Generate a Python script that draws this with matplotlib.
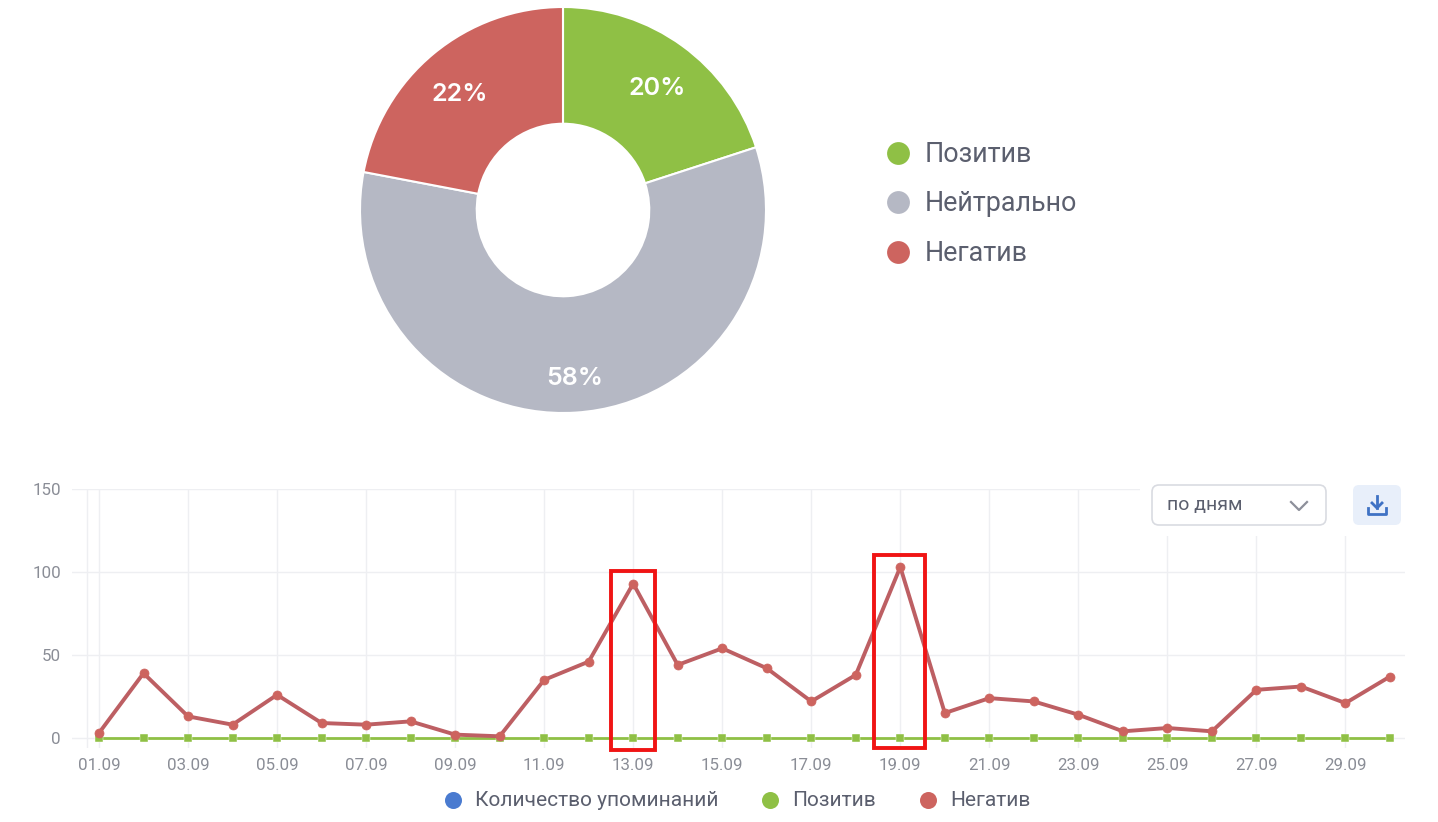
#!/usr/bin/env python3
import matplotlib
matplotlib.use("Agg")
import matplotlib.pyplot as plt
from matplotlib.patches import FancyBboxPatch, Rectangle

plt.rcParams.update({
    "font.family": ["Roboto", "DejaVu Sans"],
})

W, H = 1438, 822

share_labels = ["Позитив", "Нейтрально", "Негатив"]
share_values = [20, 58, 22]
share_colors = ["#8fc045", "#b5b8c4", "#cd645f"]

days = list(range(1, 31))
day_labels = ["%02d.09" % d for d in days]
negative = [3, 39, 13, 8, 26, 9, 8, 10, 2, 1, 35, 46, 93, 44, 54,
            42, 22, 38, 103, 15, 24, 22, 14, 4, 6, 4, 29, 31, 21, 37]
positive = [0, 0, 0, 0, 0, 0, 0, 0, 0, 0, 0, 0, 0, 0, 0,
            0, 0, 0, 0, 0, 0, 0, 0, 0, 0, 0, 0, 0, 0, 0]
y_ticks = [0, 50, 100, 150]
series_legend = ["Количество упоминаний", "Позитив", "Негатив"]
series_colors = ["#4a7bd0", "#8fc045", "#cd645f"]
highlighted = [(12.49, 13.5, -7, 100.5), (18.4, 19.56, -6, 110.5)]

TEXT = "#5b5f6e"
TICK = "#8a8d96"
GRID = "#eeeff2"
PX_PER_UNIT = 1.653


def px_axes(fig, left, top, right, bottom, **kw):
    return fig.add_axes([left / W, 1 - bottom / H, (right - left) / W, (bottom - top) / H], **kw)


fig = plt.figure(figsize=(W / 100, H / 100), dpi=100)

# donut with shares
ax_pie = px_axes(fig, 360, 7, 766, 413)
wedges, _ = ax_pie.pie(share_values, colors=share_colors, startangle=90, counterclock=False,
                       radius=1.0, wedgeprops={"width": 0.575, "edgecolor": "white", "linewidth": 1.5})
ax_pie.set_xlim(-1.0, 1.0)
ax_pie.set_ylim(-1.0, 1.0)
for pct, (tx, ty) in zip(share_values, [(0.465, 0.6), (0.06, -0.83), (-0.51, 0.57)]):
    ax_pie.text(tx, ty, "%d%%" % pct, color="white", fontsize=18, ha="center", va="center",
                fontweight="semibold", family=["Inter", "DejaVu Sans"])

# daily mentions
ax = px_axes(fig, 72, 489, 1405, 748)
ax.set_xlim(1 - 27 / 44.52, 30 + 15 / 44.52)
ax.set_ylim(-10 / PX_PER_UNIT, 150)
for s in ax.spines.values():
    s.set_visible(False)
ax.set_yticks(y_ticks)
ax.set_xticks(days[::2])
ax.set_xticklabels(day_labels[::2])
ax.tick_params(length=0, labelcolor=TICK, labelsize=12.2)
ax.tick_params(axis="x", pad=7)
ax.tick_params(axis="y", pad=8)
ax.grid(True, color=GRID, lw=1)
ax.set_axisbelow(True)
ax.axvline(0.72, color=GRID, lw=1, zorder=0)

ax.plot(days, positive, color=series_colors[1], lw=2, marker="s", ms=6, mec="white", mew=0.3,
        clip_on=False, zorder=3)
ax.plot(days, negative, color="#bd5f63", lw=2.8, marker="o", ms=6.5, mfc=series_colors[2], mec=series_colors[2],
        mew=0.5, clip_on=False, zorder=4)

for x0, x1, y0, y1 in highlighted:
    ax.add_patch(Rectangle((x0, y0), x1 - x0, y1 - y0, fill=False, ec="#f01414", lw=2.8,
                           clip_on=False, zorder=5))

# pixel overlay for the legends and controls
ov = px_axes(fig, 0, 0, W, H)
ov.set_xlim(0, W)
ov.set_ylim(H, 0)
ov.axis("off")
ov.patch.set_alpha(0)

for label, color, y in zip(share_labels, share_colors, [153, 202, 252]):
    ov.scatter([898], [y], s=270, color=color, lw=0)
    ov.text(925, y + 1, label, fontsize=19.4, color=TEXT, va="center", ha="left")

for label, color, xm in zip(series_legend, series_colors, [453, 770, 928]):
    ov.scatter([xm], [800], s=150, color=color, lw=0)
    ov.text(xm + 22, 800, label, fontsize=15, color=TEXT, va="center", ha="left")

# period selector and download button sit on a white patch over the grid
ov.add_patch(Rectangle((1140, 478), 266, 58, fc="white", ec="none", zorder=1))
ov.add_patch(FancyBboxPatch((1156, 489), 166, 32, boxstyle="round,pad=4,rounding_size=7",
                            fc="white", ec="#d9dbe1", lw=1.2, zorder=2))
ov.text(1167, 505, "по дням", fontsize=14, color=TEXT, va="center", ha="left", zorder=3)
ov.plot([1291, 1299, 1307], [502, 510, 502], color="#8d909a", lw=1.6, zorder=3)

ov.add_patch(FancyBboxPatch((1357, 489), 40, 32, boxstyle="round,pad=4,rounding_size=6",
                            fc="#e8effa", ec="none", zorder=2))
ov.plot([1377, 1377], [496, 508], color="#3f72c4", lw=2, zorder=3)
ov.plot([1372, 1377, 1382], [503, 508, 503], color="#3f72c4", lw=2, zorder=3)
ov.plot([1368, 1368, 1386, 1386], [508, 514, 514, 508], color="#3f72c4", lw=2, zorder=3)

fig.savefig("out.png", dpi=100)
